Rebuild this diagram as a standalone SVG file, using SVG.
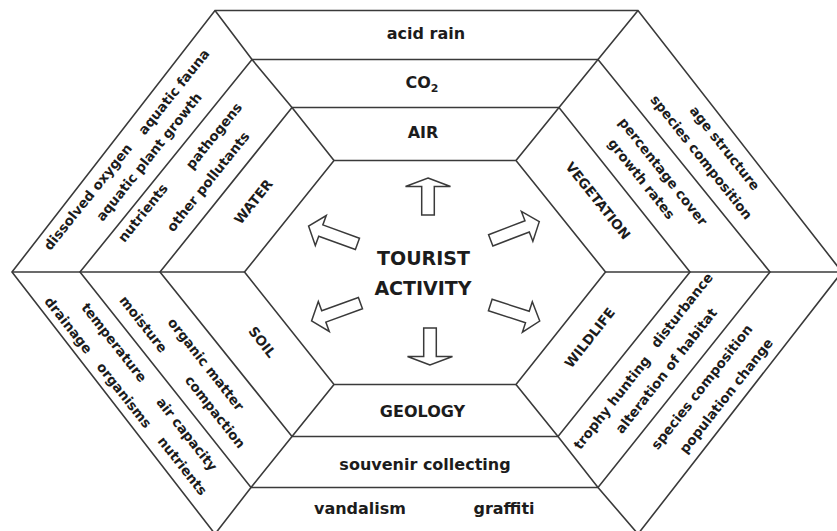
<svg xmlns="http://www.w3.org/2000/svg" width="837" height="531" viewBox="0 0 837 531">
<style>
.ln{fill:none;stroke:#3a3a3a;stroke-width:1.6;stroke-linejoin:miter}
.arr{fill:#fff;stroke:#3a3a3a;stroke-width:1.5;stroke-linejoin:miter}
text{font-family:"DejaVu Sans","Liberation Sans",sans-serif;font-weight:bold;fill:#1c1c1c}
.h{font-size:16px;text-anchor:middle}
.c{font-size:19px;text-anchor:middle}
.r{font-size:13.5px;text-anchor:middle}
</style>
<defs>
<path id="vArrow" d="M0,-18.5 L22.5,-10 L6.3,-10 L6.3,18.5 L-6.3,18.5 L-6.3,-10 L-22.5,-10 Z"/>
<path id="dArrow" d="M26,0 L13,-16 L13,-6 L-26,-6 L-26,6 L13,6 L13,16 Z"/>
</defs>
<rect width="837" height="531" fill="#fff"/>
<g id="frame">
<polygon class="ln" points="215,10.5 638,10.5 842,272 638,534 215,534 12,272"/>
<polygon class="ln" points="252,59.5 598,59.5 770,272 598,487.5 251,487.5 80,272"/>
<polygon class="ln" points="292,107.5 559,107.5 690,272 558,436.5 292,436.5 160,272"/>
<polygon class="ln" points="334,160.5 516,160.5 605.5,272 516,384.5 334,384.5 244.5,272"/>
<polyline class="ln" points="334,160.5 292,107.5 252,59.5 215,10.5"/>
<polyline class="ln" points="516,160.5 559,107.5 598,59.5 638,10.5"/>
<polyline class="ln" points="244.5,272 12,272"/>
<polyline class="ln" points="605.5,272 842,272"/>
<polyline class="ln" points="334,384.5 292,436.5 251,487.5 215,534"/>
<polyline class="ln" points="516,384.5 558,436.5 598,487.5 638,534"/>
</g>
<g id="connectors">
<use href="#vArrow" class="arr" transform="translate(428,196.5)"/>
<use href="#vArrow" class="arr" transform="translate(430,346.5) rotate(180)"/>
<use href="#dArrow" class="arr" transform="translate(515,231) rotate(-21)"/>
<use href="#dArrow" class="arr" transform="translate(333,235) rotate(200)"/>
<use href="#dArrow" class="arr" transform="translate(336,312) rotate(160)"/>
<use href="#dArrow" class="arr" transform="translate(515,313) rotate(18)"/>
</g>
<g id="tourist-activity">
<text class="c" x="423.5" y="265">TOURIST</text>
<text class="c" x="423" y="295">ACTIVITY</text>
</g>
<g id="air">
<text class="h" x="423" y="138">AIR</text>
<text class="h" x="422" y="88">CO<tspan font-size="11" dy="4">2</tspan></text>
<text class="h" x="426" y="38.5">acid rain</text>
</g>
<g id="geology">
<text class="h" x="422.5" y="417">GEOLOGY</text>
<text class="h" x="425" y="470">souvenir collecting</text>
<text class="h" x="360" y="514">vandalism</text>
<text class="h" x="504" y="514">graffiti</text>
</g>
<g id="water">
<text class="r" transform="translate(253.3,201.7) rotate(-51.3)" y="4.8">WATER</text>
<text class="r" transform="translate(208.3,181.7) rotate(-51.3)" y="4.5">other pollutants</text>
<text class="r" transform="translate(143,213) rotate(-51.3)" y="4.5">nutrients</text>
<text class="r" transform="translate(214,136) rotate(-51.3)" y="4.5">pathogens</text>
<text class="r" transform="translate(149,157) rotate(-51.3)" y="4.5">aquatic plant growth</text>
<text class="r" transform="translate(88,197) rotate(-51.3)" y="4.5">dissolved oxygen</text>
<text class="r" transform="translate(174,92) rotate(-51.3)" y="4.5">aquatic fauna</text>
</g>
<g id="vegetation">
<text class="r" transform="translate(598,200.7) rotate(51.5)" y="4.8">VEGETATION</text>
<text class="r" transform="translate(641.3,179) rotate(51.5)" y="4.5">growth rates</text>
<text class="r" transform="translate(663,171.7) rotate(51.5)" y="4.5">percentage cover</text>
<text class="r" transform="translate(701.3,157.3) rotate(51.5)" y="4.5">species composition</text>
<text class="r" transform="translate(724.7,148.3) rotate(51.5)" y="4.5">age structure</text>
</g>
<g id="soil">
<text class="r" transform="translate(262.3,342) rotate(51.8)" y="4.8">SOIL</text>
<text class="r" transform="translate(205.7,364.3) rotate(51.8)" y="4.5">organic matter</text>
<text class="r" transform="translate(143.3,324.3) rotate(51.8)" y="4.5">moisture</text>
<text class="r" transform="translate(215,412) rotate(51.8)" y="4.5">compaction</text>
<text class="r" transform="translate(114,342.7) rotate(51.8)" y="4.5">temperature</text>
<text class="r" transform="translate(186.7,434.3) rotate(51.8)" y="4.5">air capacity</text>
<text class="r" transform="translate(68.3,325.3) rotate(51.8)" y="4.5">drainage</text>
<text class="r" transform="translate(124,395.3) rotate(51.8)" y="4.5">organisms</text>
<text class="r" transform="translate(182.3,466) rotate(51.8)" y="4.5">nutrients</text>
</g>
<g id="wildlife">
<text class="r" transform="translate(589.7,337.7) rotate(-51.8)" y="4.8">WILDLIFE</text>
<text class="r" transform="translate(682,310.3) rotate(-51.8)" y="4.5">disturbance</text>
<text class="r" transform="translate(612,402.7) rotate(-51.8)" y="4.5">trophy hunting</text>
<text class="r" transform="translate(666.3,371) rotate(-51.8)" y="4.5">alteration of habitat</text>
<text class="r" transform="translate(702,387) rotate(-51.8)" y="4.5">species composition</text>
<text class="r" transform="translate(726.3,396) rotate(-51.8)" y="4.5">population change</text>
</g>
</svg>
